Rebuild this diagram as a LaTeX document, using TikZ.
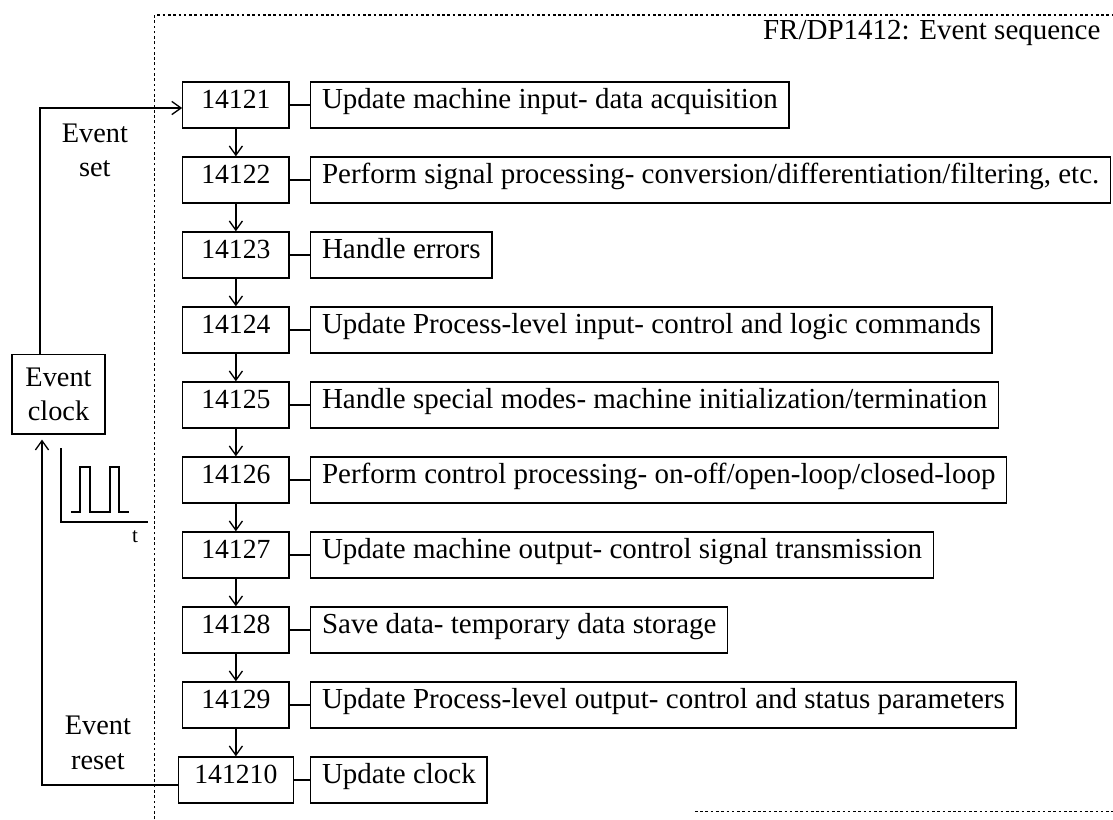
\documentclass[tikz,border=0pt]{standalone}
\usepackage{fontspec}
\setmainfont{Liberation Serif}
\usetikzlibrary{positioning,arrows.meta}

\begin{document}
\begin{tikzpicture}[font=\fontsize{21.5}{26}\selectfont,
  >={Straight Barb[length=7pt,width=10pt]},
  num/.style={draw,line width=1pt,minimum width=2.83cm,minimum height=1.23cm,inner xsep=12pt,text height=1.6ex,text depth=0.3ex,font=\fontsize{21}{25}\selectfont},
  desc/.style={draw,line width=1pt,minimum height=1.23cm,inner xsep=0.3cm,text height=1.6ex,text depth=0.45ex,font=\fontsize{22}{26}\selectfont},
  link/.style={line width=1pt},
  frame/.style={line width=0.8pt,dash pattern=on 2pt off 2pt}]
\useasboundingbox (0,0) rectangle (29.68,-21.84);

% dotted frame round the sequence
\draw[frame] (4.13,-21.84) -- (4.13,-0.4) -- (29.68,-0.4);
\draw[frame] (18.53,-21.65) -- (29.68,-21.65);
\node[anchor=east,font=\fontsize{22}{26}\selectfont] (title) at (29.47,-0.87) {FR/DP1412: Event sequence};

% step numbers
\node[num] (s1) at (6.29,-2.8) {14121};
\node[num] (s2) at (6.29,-4.8) {14122};
\node[num] (s3) at (6.29,-6.8) {14123};
\node[num] (s4) at (6.29,-8.8) {14124};
\node[num] (s5) at (6.29,-10.8) {14125};
\node[num] (s6) at (6.29,-12.8) {14126};
\node[num] (s7) at (6.29,-14.8) {14127};
\node[num] (s8) at (6.29,-16.8) {14128};
\node[num] (s9) at (6.29,-18.8) {14129};
\node[num] (s10) at (6.29,-20.8) {141210};

% descriptions
\node[desc,anchor=west] (d1) at (8.27,-2.8) {Update machine input- data acquisition};
\node[desc,anchor=west] (d2) at (8.27,-4.8) {Perform signal processing- conversion/differentiation/filtering, etc.};
\node[desc,anchor=west] (d3) at (8.27,-6.8) {Handle errors};
\node[desc,anchor=west] (d4) at (8.27,-8.8) {Update Process-level input- control and logic commands};
\node[desc,anchor=west] (d5) at (8.27,-10.8) {Handle special modes- machine initialization/termination};
\node[desc,anchor=west] (d6) at (8.27,-12.8) {Perform control processing- on-off/open-loop/closed-loop};
\node[desc,anchor=west] (d7) at (8.27,-14.8) {Update machine output- control signal transmission};
\node[desc,anchor=west] (d8) at (8.27,-16.8) {Save data- temporary data storage};
\node[desc,anchor=west] (d9) at (8.27,-18.8) {Update Process-level output- control and status parameters};
\node[desc,anchor=west] (d10) at (8.27,-20.8) {Update clock};

\draw[link] (s1) -- (d1);
\draw[link] (s2) -- (d2);
\draw[link] (s3) -- (d3);
\draw[link] (s4) -- (d4);
\draw[link] (s5) -- (d5);
\draw[link] (s6) -- (d6);
\draw[link] (s7) -- (d7);
\draw[link] (s8) -- (d8);
\draw[link] (s9) -- (d9);
\draw[link] (s10) -- (d10);

\draw[link,->] (s1) -- (s2);
\draw[link,->] (s2) -- (s3);
\draw[link,->] (s3) -- (s4);
\draw[link,->] (s4) -- (s5);
\draw[link,->] (s5) -- (s6);
\draw[link,->] (s6) -- (s7);
\draw[link,->] (s7) -- (s8);
\draw[link,->] (s8) -- (s9);
\draw[link,->] (s9) -- (s10);

% clock and its loop
\node[draw,line width=1pt,minimum width=2.48cm,minimum height=2.13cm,align=center] (clock) at (1.56,-10.51) {Event\\clock};
\draw[link,->] ([xshift=-0.49cm]clock.north) |- ([yshift=-0.08cm]s1.west);
\draw[link,->] ([yshift=-0.13cm]s10.west) -| ([xshift=-0.44cm,yshift=-0.13cm]clock.south);
\node[align=center] (setlbl) at (2.53,-4.0) {Event\\set};
\node[align=center] (resetlbl) at (2.61,-19.81) {Event\\reset};

% pulse train
\draw[link] (1.63,-11.95) -- (1.63,-13.92) -- (3.95,-13.92);
\draw[link] (1.89,-13.65) -- (2.13,-13.65) -- (2.13,-12.45) -- (2.4,-12.45) -- (2.4,-13.65)
  -- (2.93,-13.65) -- (2.93,-12.45) -- (3.17,-12.45) -- (3.17,-13.65) -- (3.44,-13.65);
\node[font=\fontsize{16}{18}\selectfont] (tlbl) at (3.6,-14.3) {t};
\end{tikzpicture}
\end{document}
